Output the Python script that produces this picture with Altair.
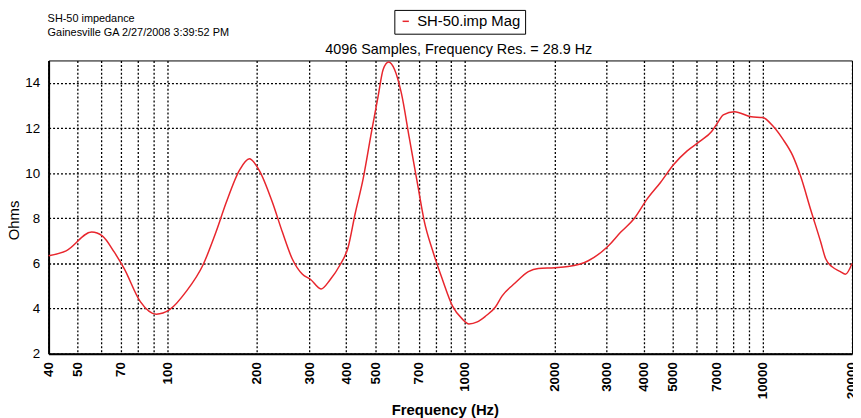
import json
import altair as alt
import pandas as pd

# ---- data ----
freq = [40, 45.8, 55.8, 60.7, 66.4, 71.7, 81.3, 92, 102, 116, 132, 146, 158, 175, 189, 204,
        226, 244, 263, 285, 303, 329, 353, 381, 406, 428, 456, 486, 512, 532, 555, 581,
        612, 652, 695, 731, 780, 842, 910, 982, 1033, 1102, 1174, 1268, 1334, 1476, 1636,
        1766, 2008, 2223, 2591, 3017, 3345, 3705, 4103, 4545, 5035, 5576, 6176, 6752, 7112,
        7386, 8066, 9170, 10024, 10830, 11700, 12630, 13460, 14530, 15700, 16300, 17150,
        18280, 19000, 20000]
ohms = [6.34, 6.56, 7.39, 7.21, 6.51, 5.78, 4.31, 3.75, 3.95, 4.76, 5.93, 7.39, 8.70, 10.13,
        10.64, 10.13, 8.70, 7.39, 6.22, 5.52, 5.30, 4.87, 5.28, 5.93, 6.73, 8.18, 9.77, 11.82,
        13.43, 14.60, 14.93, 14.60, 13.57, 11.53, 9.48, 7.88, 6.57, 5.28, 4.11, 3.53, 3.32,
        3.41, 3.66, 4.07, 4.55, 5.13, 5.64, 5.78, 5.81, 5.86, 6.11, 6.74, 7.39, 7.98, 8.86,
        9.59, 10.39, 10.98, 11.42, 11.85, 12.29, 12.59, 12.73, 12.50, 12.47, 12.10, 11.52,
        10.79, 9.84, 8.38, 6.95, 6.22, 5.85, 5.64, 5.52, 6.00]
series_name = ["SH-50.imp Mag"]
x_label_values = [40, 50, 70, 100, 200, 300, 400, 500, 700, 1000, 2000, 3000, 4000, 5000,
                  7000, 10000, 20000]
x_grid_values = [40, 50, 60, 70, 80, 90, 100, 200, 300, 400, 500, 600, 700, 800, 900, 1000,
                 2000, 3000, 4000, 5000, 6000, 7000, 8000, 9000, 10000]
y_label_values = [2, 4, 6, 8, 10, 12, 14]
header_lines = ["SH-50 impedance", "Gainesville GA 2/27/2008 3:39:52 PM"]
subtitle = ["4096 Samples, Frequency Res. = 28.9 Hz"]

FONT = "Liberation Sans"
xscale = alt.Scale(type="log", domain=[40, 20000], nice=False)
yscale = alt.Scale(domain=[2, 15], nice=False, zero=False)

df = pd.DataFrame({"Frequency": freq, "Ohms": ohms, "series": series_name[0]})

x_tick_values = sorted(set(x_grid_values + x_label_values))
label_expr = ("indexof(" + json.dumps(x_label_values) +
              ", datum.value) >= 0 ? format(datum.value, 'd') : ''")

line = alt.Chart(df).mark_line(strokeWidth=1.5, interpolate="monotone").encode(
    x=alt.X("Frequency:Q", scale=xscale,
            axis=alt.Axis(values=x_tick_values, title="Frequency (Hz)", grid=True,
                          gridColor="black", gridDash=[2, 2], gridWidth=1.3, gridOpacity=1,
                          ticks=False, labelAngle=270, labelFontWeight="bold",
                          labelFontSize=13.5, labelPadding=8, labelExpr=label_expr,
                          labelFlush=False, labelOverlap=False,
                          titleFontSize=15, titleFontWeight="bold", titleX=400,
                          titleY=61, titleBaseline="alphabetic",
                          domainWidth=2, domainColor="black",
                          labelColor="black", titleColor="black")),
    y=alt.Y("Ohms:Q", scale=yscale,
            axis=alt.Axis(values=y_label_values, title="Ohms", grid=True,
                          gridColor="black", gridDash=[2, 2], gridWidth=1.3, gridOpacity=1,
                          ticks=False, labelFontSize=13.5, labelPadding=9, labelFlush=False,
                          titleFontSize=15, titleFontWeight="normal", titleX=-35,
                          titleY=161, titleBaseline="middle", titleAlign="center",
                          domainWidth=2, domainColor="black",
                          labelColor="black", titleColor="black")),
    color=alt.Color("series:N", scale=alt.Scale(range=["#e8262d"]),
                    legend=alt.Legend(title=None, orient="none", legendX=349, legendY=-51,
                                      symbolType="stroke", symbolStrokeWidth=1.5,
                                      symbolSize=40, labelFontSize=15, labelColor="black",
                                      strokeColor="black", fillColor="white", padding=4,
                                      labelOffset=4)),
)

hdr = alt.Chart(pd.DataFrame({"t": ["\n".join(header_lines)]})).mark_text(
    align="left", baseline="alphabetic", fontSize=11, font=FONT, color="black",
    lineBreak="\n", lineHeight=14.3
).encode(text="t:N", x=alt.value(-1), y=alt.value(-39))

sub = alt.Chart(pd.DataFrame({"t": subtitle})).mark_text(
    align="center", baseline="alphabetic", fontSize=14.5, font=FONT, color="black"
).encode(text="t:N", x=alt.value(414), y=alt.value(-7))

chart = alt.layer(line, hdr, sub).properties(
    width=811, height=296,
    autosize=alt.AutoSizeParams(type="none"),
    padding={"left": 41, "top": 51, "right": 1, "bottom": 63},
    background="white",
).configure_view(stroke="black", strokeWidth=1).configure_axis(
    labelFont=FONT, titleFont=FONT
).configure_legend(labelFont=FONT)

chart.save("out.html", embed_options={"renderer": "svg", "actions": False})
